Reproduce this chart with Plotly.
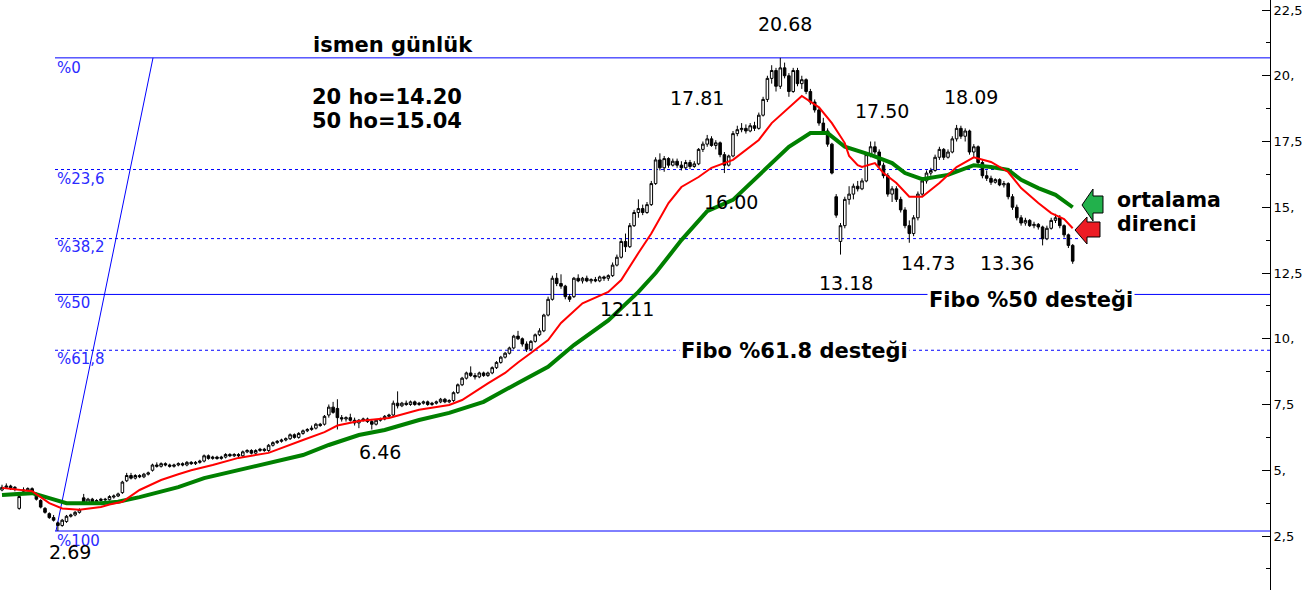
import plotly.graph_objects as go

# ---------------- data ----------------
open_ = [
    4.25, 4.35, 4.4, 4.3, 3.55, 4.2, 4.25, 4.3, 4.1, 3.85,
    3.55, 3.35, 3.2, 3.0, 2.9, 3.05, 3.25, 3.3, 3.4, 3.95,
    3.75, 3.9, 3.8, 3.85, 3.9, 3.88, 3.98, 4.02, 4.15, 4.6,
    4.8, 4.7, 4.8, 4.75, 4.85, 5.0, 5.2, 5.15, 5.25, 5.2,
    5.15, 5.2, 5.25, 5.2, 5.3, 5.25, 5.3, 5.35, 5.55, 5.45,
    5.5, 5.45, 5.5, 5.6, 5.55, 5.6, 5.55, 5.7, 5.75, 5.65,
    5.75, 5.8, 5.75, 5.95, 6.05, 6.1, 6.15, 6.2, 6.35, 6.25,
    6.4, 6.5, 6.55, 6.6, 6.75, 6.75, 7.1, 7.4, 7.35, 7.0,
    6.95, 7.0, 6.9, 6.8, 6.9, 6.95, 6.85, 6.75, 6.9, 6.95,
    7.05, 7.1, 7.55, 7.45, 7.55, 7.5, 7.6, 7.5, 7.55, 7.6,
    7.5, 7.55, 7.6, 7.7, 7.6, 7.65, 7.95, 8.25, 8.5, 8.7,
    8.6, 8.55, 8.7, 8.6, 8.7, 8.9, 9.1, 9.3, 9.45, 9.65,
    10.1, 10.0, 9.8, 9.6, 9.9, 10.15, 10.3, 10.9, 11.5, 12.3,
    12.1, 12.0, 11.6, 11.6, 12.3, 12.2, 12.3, 12.2, 12.25, 12.2,
    12.35, 12.3, 12.4, 12.8, 13.1, 13.7, 13.5, 14.3, 14.8, 14.95,
    14.8, 15.1, 15.9, 16.8, 16.5, 16.85, 16.6, 16.75, 16.6, 16.5,
    16.7, 16.55, 16.65, 17.2, 17.4, 17.6, 17.35, 17.45, 17.0, 16.6,
    16.95, 17.8, 17.95, 18.0, 17.9, 18.1, 18.0, 18.5, 19.1, 19.9,
    20.2, 19.6, 20.3, 20.0, 19.4, 20.2, 19.7, 19.85, 19.4, 19.0,
    18.7, 18.2, 17.9, 17.4, 15.4, 13.7, 14.3, 15.3, 15.5, 15.8,
    15.7, 16.0, 17.0, 17.3, 17.1, 16.6, 16.2, 15.5, 15.7, 15.3,
    14.9, 14.3, 14.0, 14.6, 15.5, 16.0, 16.3, 16.4, 16.9, 17.2,
    16.9, 17.1, 17.6, 18.0, 17.7, 17.9, 17.1, 17.3, 16.7, 16.2,
    16.1, 15.95, 16.05, 15.85, 15.9, 15.4, 15.0, 14.6, 14.4, 14.5,
    14.3, 14.35, 14.25, 13.8, 14.2, 14.5, 14.6, 14.3, 13.95, 13.55,
]
high = [
    4.45, 4.5, 4.45, 4.4, 4.05, 4.35, 4.35, 4.35, 4.15, 3.9,
    3.6, 3.4, 3.3, 3.05, 3.15, 3.3, 3.35, 3.45, 3.55, 4.1,
    3.95, 3.95, 3.9, 3.95, 3.95, 4.05, 4.08, 4.15, 4.6, 4.9,
    4.9, 4.85, 4.85, 4.9, 4.95, 5.25, 5.3, 5.3, 5.3, 5.25,
    5.25, 5.3, 5.3, 5.35, 5.35, 5.35, 5.4, 5.6, 5.6, 5.55,
    5.55, 5.55, 5.65, 5.65, 5.65, 5.65, 5.75, 5.8, 5.8, 5.8,
    5.85, 5.85, 6.0, 6.1, 6.15, 6.2, 6.25, 6.4, 6.4, 6.45,
    6.55, 6.6, 6.7, 6.8, 6.8, 7.1, 7.5, 7.6, 7.7, 7.1,
    7.05, 7.15, 7.0, 6.95, 7.0, 7.0, 6.95, 6.95, 7.0, 7.1,
    7.15, 7.65, 8.0, 7.6, 7.65, 7.65, 7.65, 7.6, 7.65, 7.65,
    7.6, 7.65, 7.75, 7.75, 7.7, 8.0, 8.3, 8.55, 8.75, 8.95,
    8.7, 8.75, 8.75, 8.75, 8.95, 9.15, 9.35, 9.5, 9.7, 10.15,
    10.3, 10.05, 9.9, 9.95, 10.2, 10.4, 10.95, 11.6, 12.4, 12.5,
    12.45, 12.05, 11.7, 12.35, 12.45, 12.35, 12.4, 12.3, 12.35, 12.4,
    12.4, 12.45, 12.9, 13.2, 13.8, 14.0, 14.4, 14.9, 15.3, 15.1,
    15.2, 16.0, 16.9, 17.05, 16.95, 16.9, 16.85, 16.85, 16.75, 16.8,
    16.8, 16.75, 17.25, 17.5, 17.75, 17.7, 17.55, 17.5, 17.1, 17.0,
    17.9, 18.1, 18.2, 18.15, 18.2, 18.25, 18.6, 19.2, 20.0, 20.4,
    20.3, 20.68, 20.5, 20.1, 20.3, 20.3, 20.0, 19.9, 19.5, 19.1,
    18.8, 18.4, 18.0, 17.45, 15.5, 14.4, 15.4, 15.8, 15.9, 16.0,
    16.1, 17.1, 17.5, 17.5, 17.2, 16.7, 16.3, 15.8, 15.8, 15.4,
    15.0, 14.5, 14.7, 15.6, 16.1, 16.4, 16.5, 17.0, 17.3, 17.25,
    17.2, 17.7, 18.13, 18.1, 18.0, 17.95, 17.4, 17.35, 16.8, 16.4,
    16.2, 16.1, 16.1, 16.0, 15.95, 15.5, 15.1, 14.7, 14.6, 14.55,
    14.45, 14.4, 14.3, 14.3, 14.6, 14.75, 14.7, 14.35, 14.0, 13.6,
]
low = [
    4.2, 4.3, 4.25, 4.2, 3.5, 4.15, 4.2, 4.15, 3.85, 3.55,
    3.35, 3.15, 3.05, 2.69, 2.85, 3.0, 3.2, 3.25, 3.35, 3.7,
    3.7, 3.75, 3.75, 3.8, 3.82, 3.85, 3.92, 3.98, 4.1, 4.55,
    4.65, 4.65, 4.7, 4.7, 4.8, 4.95, 5.1, 5.1, 5.15, 5.1,
    5.1, 5.15, 5.15, 5.15, 5.2, 5.2, 5.25, 5.3, 5.4, 5.4,
    5.4, 5.4, 5.45, 5.5, 5.5, 5.5, 5.5, 5.65, 5.6, 5.6,
    5.7, 5.7, 5.7, 5.9, 6.0, 6.05, 6.1, 6.15, 6.2, 6.2,
    6.35, 6.45, 6.5, 6.55, 6.65, 6.7, 7.0, 7.15, 6.55, 6.85,
    6.85, 6.85, 6.7, 6.6, 6.85, 6.8, 6.55, 6.7, 6.85, 6.9,
    7.0, 7.05, 7.35, 7.4, 7.45, 7.45, 7.45, 7.45, 7.5, 7.45,
    7.45, 7.5, 7.55, 7.55, 7.55, 7.6, 7.9, 8.2, 8.45, 8.55,
    8.45, 8.5, 8.55, 8.55, 8.65, 8.85, 9.05, 9.25, 9.4, 9.6,
    9.95, 9.7, 9.5, 9.55, 9.85, 10.1, 10.25, 10.85, 11.45, 12.0,
    11.9, 11.5, 11.4, 11.55, 12.15, 12.1, 12.15, 12.1, 12.15, 12.15,
    12.2, 12.2, 12.35, 12.75, 13.05, 13.3, 13.45, 14.25, 14.6, 14.7,
    14.75, 15.05, 15.85, 16.4, 16.35, 16.5, 16.55, 16.5, 16.4, 16.45,
    16.45, 16.5, 16.6, 17.1, 17.3, 17.3, 17.2, 16.9, 16.3, 16.55,
    16.9, 17.7, 17.85, 17.8, 17.85, 17.9, 17.95, 18.45, 19.0, 19.7,
    19.4, 19.5, 19.9, 19.2, 19.35, 19.6, 19.5, 19.3, 18.9, 18.6,
    18.1, 17.8, 17.3, 16.25, 14.6, 13.2, 14.2, 15.1, 15.3, 15.6,
    15.65, 15.95, 16.9, 17.0, 16.5, 16.1, 15.4, 15.2, 15.2, 14.8,
    14.2, 13.65, 13.9, 14.5, 15.4, 15.9, 16.2, 16.35, 16.8, 16.8,
    16.85, 17.05, 17.5, 17.6, 17.5, 17.0, 16.9, 16.6, 16.1, 16.0,
    15.85, 15.9, 15.8, 15.75, 15.3, 14.9, 14.5, 14.3, 14.3, 14.25,
    14.2, 14.15, 13.55, 13.75, 14.15, 14.4, 14.2, 13.85, 13.45, 12.85,
]
close = [
    4.35, 4.4, 4.3, 4.35, 4.0, 4.25, 4.3, 4.2, 3.9, 3.6,
    3.4, 3.2, 3.1, 2.9, 3.1, 3.25, 3.3, 3.4, 3.5, 3.75,
    3.9, 3.8, 3.85, 3.9, 3.88, 4.0, 4.02, 4.1, 4.55, 4.8,
    4.7, 4.8, 4.75, 4.85, 4.9, 5.2, 5.15, 5.25, 5.2, 5.15,
    5.2, 5.25, 5.2, 5.3, 5.25, 5.3, 5.35, 5.55, 5.45, 5.5,
    5.45, 5.5, 5.6, 5.55, 5.6, 5.55, 5.7, 5.75, 5.65, 5.75,
    5.8, 5.75, 5.95, 6.05, 6.1, 6.15, 6.2, 6.35, 6.25, 6.4,
    6.5, 6.55, 6.6, 6.75, 6.7, 7.05, 7.4, 7.2, 7.0, 6.95,
    7.0, 6.9, 6.8, 6.9, 6.95, 6.85, 6.75, 6.9, 6.95, 7.05,
    7.1, 7.55, 7.45, 7.55, 7.5, 7.6, 7.5, 7.55, 7.6, 7.5,
    7.55, 7.6, 7.7, 7.6, 7.65, 7.95, 8.25, 8.5, 8.7, 8.6,
    8.55, 8.7, 8.6, 8.7, 8.9, 9.1, 9.3, 9.45, 9.65, 10.1,
    10.0, 9.8, 9.6, 9.9, 10.15, 10.3, 10.9, 11.5, 12.3, 12.1,
    12.0, 11.6, 11.5, 12.3, 12.2, 12.3, 12.2, 12.25, 12.2, 12.35,
    12.3, 12.4, 12.8, 13.1, 13.7, 13.5, 14.3, 14.8, 14.95, 14.8,
    15.1, 15.9, 16.8, 16.5, 16.85, 16.6, 16.75, 16.6, 16.5, 16.7,
    16.55, 16.65, 17.2, 17.4, 17.6, 17.35, 17.45, 17.0, 16.6, 16.95,
    17.8, 17.95, 18.0, 17.9, 18.1, 18.0, 18.5, 19.1, 19.9, 20.2,
    19.6, 20.3, 20.0, 19.4, 20.2, 19.7, 19.85, 19.4, 19.0, 18.7,
    18.2, 17.9, 17.4, 16.3, 14.7, 14.3, 15.3, 15.5, 15.8, 15.7,
    16.0, 17.0, 17.3, 17.1, 16.6, 16.2, 15.5, 15.7, 15.3, 14.9,
    14.3, 14.0, 14.6, 15.5, 16.0, 16.3, 16.4, 16.9, 17.2, 16.9,
    17.1, 17.6, 18.0, 17.7, 17.9, 17.1, 17.3, 16.7, 16.2, 16.1,
    15.95, 16.05, 15.85, 15.9, 15.4, 15.0, 14.6, 14.4, 14.5, 14.3,
    14.35, 14.25, 13.8, 14.2, 14.5, 14.6, 14.3, 13.95, 13.55, 12.95,
]
for arr in (open_, high, low, close):
    assert len(arr) == 250, len(arr)
bars = list(range(len(close)))

# 20-period average (red): bar index, value
ma20_x = [0, 7, 11, 14, 18, 23, 25, 28, 32, 37, 41, 44, 49, 55, 62, 65, 70, 75, 78, 83,
          90, 97, 104, 107, 110, 113, 117, 120, 123, 127, 130, 135, 141, 144, 148, 151,
          155, 158, 162, 165, 170, 176, 179, 183, 186, 190, 193, 196, 197, 199, 200, 203,
          205, 208, 211, 214, 218, 222, 226, 230, 234, 237, 241, 244, 247, 249]
ma20_y = [4.33, 4.2, 3.75, 3.55, 3.5, 3.6, 3.7, 3.8, 4.25, 4.63, 4.85, 5.0, 5.2, 5.47, 5.66,
          5.85, 6.15, 6.45, 6.7, 6.87, 6.99, 7.3, 7.48, 7.67, 8.0, 8.3, 8.7, 9.1, 9.46, 9.95,
          10.6, 11.35, 11.78, 12.23, 13.26, 14.0, 15.16, 15.77, 16.15, 16.5, 16.8, 17.56,
          18.2, 18.8, 19.23, 18.8, 18.2, 17.44, 16.95, 16.6, 16.53, 16.68, 16.3, 15.92,
          15.4, 15.4, 15.92, 16.53, 16.9, 16.72, 16.34, 15.73, 15.16, 14.78, 14.55, 14.2]
# 50-period average (green)
ma50_x = [0, 7, 11, 15, 23, 27, 32, 37, 41, 47, 55, 62, 70, 76, 83, 89, 97, 104, 112, 120,
          127, 133, 141, 148, 152, 158, 164, 170, 178, 183, 188, 192, 196, 202, 207, 210,
          214, 220, 226, 230, 234, 237, 241, 245, 249]
ma50_y = [4.06, 4.13, 3.94, 3.75, 3.75, 3.8, 3.98, 4.17, 4.36, 4.7, 5.0, 5.28, 5.58, 5.96,
          6.34, 6.53, 6.91, 7.18, 7.6, 8.32, 8.93, 9.76, 10.7, 11.78, 12.5, 13.75, 14.85,
          15.28, 16.53, 17.3, 17.82, 17.82, 17.3, 16.99, 16.68, 16.3, 16.07, 16.23, 16.6,
          16.53, 16.42, 16.04, 15.73, 15.47, 15.0]

fib_high = 20.68
fib_low = 2.69
fib_ratios = [0.0, 0.236, 0.382, 0.5, 0.618, 1.0]
fib_labels = ["%0", "%23,6", "%38,2", "%50", "%61,8", "%100"]

ytick_vals = [2.5, 5, 7.5, 10, 12.5, 15, 17.5, 20, 22.5]
ytick_text = ["2,5", "5,", "7,5", "10,", "12,5", "15,", "17,5", "20,", "22,5"]
yminor_vals = [1.25, 3.75, 6.25, 8.75, 11.25, 13.75, 16.25, 18.75, 21.25]

value_labels = ["20.68", "17.81", "16.00", "17.50", "18.09", "13.18",
                "14.73", "13.36", "12.11", "6.46", "2.69"]

# ---------------- geometry helpers (pixels -> axis units) ----------------
FIG_W, FIG_H = 1316, 590
PLOT_W = 1270
X0_PX, DX_PX = 2.0, 4.3          # pixel of first bar, pixels per bar
Y_REF_PX, Y_REF_V, PX_PER_UNIT = 10.0, 22.5, 26.3


def X(px):
    return (px - X0_PX) / DX_PX


def Y(py):
    return Y_REF_V - (py - Y_REF_PX) / PX_PER_UNIT


FONT = "DejaVu Sans"
BLUE = "#0000ff"

fig = go.Figure()
fig.add_trace(go.Candlestick(
    x=bars, open=open_, high=high, low=low, close=close,
    increasing=dict(line=dict(color="black", width=1), fillcolor="white"),
    decreasing=dict(line=dict(color="black", width=1), fillcolor="black"),
    whiskerwidth=0, showlegend=False, hoverinfo="skip",
))
fig.add_trace(go.Scatter(x=ma50_x, y=ma50_y, mode="lines",
                         line=dict(color="#008000", width=4),
                         showlegend=False, hoverinfo="skip"))
fig.add_trace(go.Scatter(x=ma20_x, y=ma20_y, mode="lines",
                         line=dict(color="#ff0000", width=2),
                         showlegend=False, hoverinfo="skip"))

shapes = []
annotations = []
x_left = X(55)
x_axis_end = X(PLOT_W)
fib_right = {0.236: X(1078), 0.382: X(1078)}
for r, lab, ly in zip(fib_ratios, fib_labels, [68, 179, 247, 303, 359, 541]):
    lvl = fib_high - r * (fib_high - fib_low)
    solid = r in (0.0, 0.5, 1.0)
    shapes.append(dict(type="line", xref="x", yref="y", x0=x_left, x1=fib_right.get(r, x_axis_end),
                       y0=lvl, y1=lvl, layer="below",
                       line=dict(color=BLUE, width=1, dash="solid" if solid else "3px,3px")))
    annotations.append(dict(x=x_left, y=Y(ly), xref="x", yref="y", text=lab, showarrow=False,
                            xanchor="left", yanchor="middle",
                            font=dict(family=FONT, size=15, color="#2b2bff")))
# diagonal trend line of the retracement tool
shapes.append(dict(type="line", xref="x", yref="y", x0=X(56), y0=fib_low, x1=X(153), y1=fib_high,
                   layer="below", line=dict(color=BLUE, width=1)))


# arrows (pixel outlines converted to paper units)
def ppath(pts):
    s = ""
    for k, (px, py) in enumerate(pts):
        s += ("M" if k == 0 else "L") + f"{px / PLOT_W:.5f},{1 - py / FIG_H:.5f} "
    return s + "Z"


shapes.append(dict(type="path", xref="paper", yref="paper",
                   path=ppath([(1082, 205), (1093, 189), (1093, 196), (1103, 196),
                               (1103, 213), (1093, 213), (1093, 221)]),
                   fillcolor="#22b14c", line=dict(color="black", width=1)))
shapes.append(dict(type="path", xref="paper", yref="paper",
                   path=ppath([(1075, 230), (1087, 217), (1087, 222), (1100, 222),
                               (1100, 237), (1087, 237), (1087, 244)]),
                   fillcolor="#ed1c24", line=dict(color="black", width=1)))

# price labels
label_pos = [(785, 24), (697, 98), (731, 202), (882, 111), (971, 97), (846, 283),
             (928, 263), (1007, 263), (627, 309), (380, 452), (70, 552)]
for t, (px, py) in zip(value_labels, label_pos):
    annotations.append(dict(x=X(px), y=Y(py), xref="x", yref="y", text=t, showarrow=False,
                            xanchor="center", yanchor="middle",
                            font=dict(family=FONT, size=19, color="black")))

bold_texts = [("ismen günlük", 311, 45, 21, None),
              ("20 ho=14.20", 310, 97, 21, None),
              ("50 ho=15.04", 310, 121, 21, None),
              ("ortalama", 1115, 200, 20.5, None),
              ("direnci", 1115, 224, 20.5, None),
              ("Fibo %50 desteği", 927, 300, 21, "white"),
              ("Fibo %61.8 desteği", 679, 351, 21, "white")]
for t, px, py, sz, bg in bold_texts:
    a = dict(x=X(px), y=Y(py), xref="x", yref="y", text=f"<b>{t}</b>", showarrow=False,
             xanchor="left", yanchor="middle",
             font=dict(family=FONT, size=sz, color="black"))
    if bg:
        a["bgcolor"] = bg
        a["borderpad"] = 1
    annotations.append(a)

fig.update_layout(
    width=FIG_W, height=FIG_H,
    margin=dict(l=0, r=FIG_W - PLOT_W, t=0, b=0, pad=0),
    paper_bgcolor="white", plot_bgcolor="white",
    showlegend=False, boxgap=0.15,
    shapes=shapes, annotations=annotations,
    xaxis=dict(visible=False, range=[X(0), X(PLOT_W)], rangeslider=dict(visible=False),
               showgrid=False, zeroline=False),
    yaxis=dict(side="right", range=[Y(FIG_H), Y(0)], tickmode="array",
               tickvals=ytick_vals, ticktext=ytick_text,
               ticks="inside", ticklen=8, tickcolor="black", tickwidth=1,
               showline=True, linecolor="black", linewidth=1,
               showgrid=False, zeroline=False,
               tickfont=dict(family=FONT, size=13, color="black"),
               minor=dict(tickmode="array", tickvals=yminor_vals, ticks="inside",
                          ticklen=4, tickcolor="black", showgrid=False)),
)

fig.write_html("out.html", config={"displayModeBar": False},
               post_script="document.body.style.margin='0px';document.body.style.padding='0px';")
